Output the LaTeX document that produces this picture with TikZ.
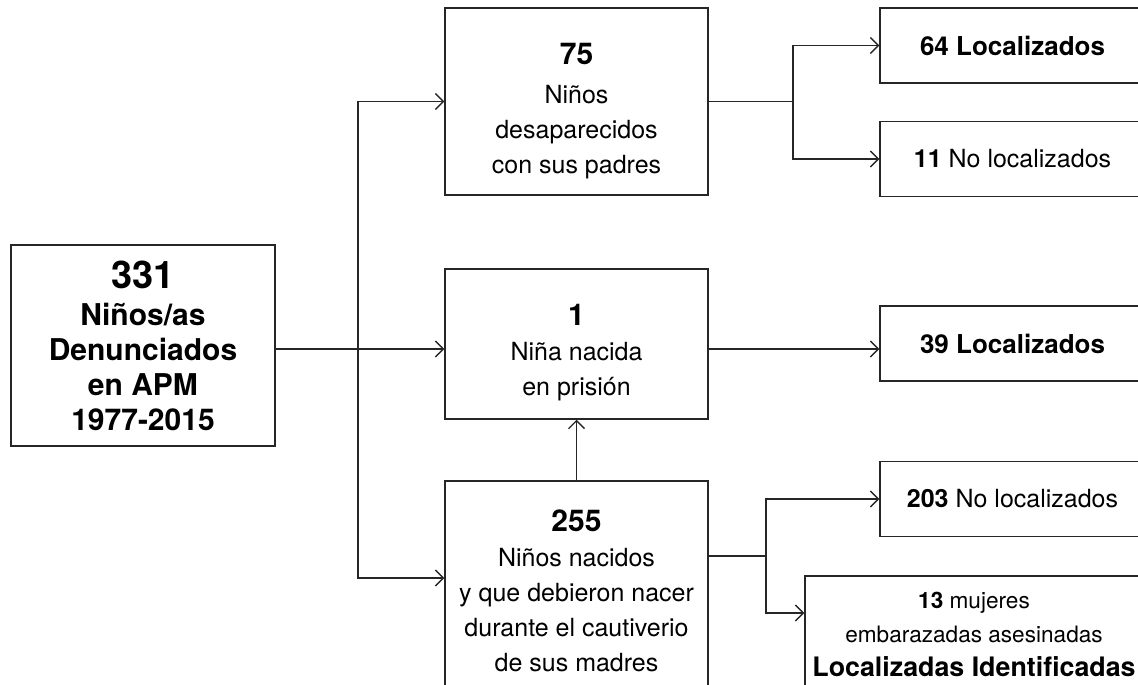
\documentclass[tikz,border=0pt]{standalone}
\usepackage{fontspec}
\setmainfont{TeX Gyre Heros}
\usetikzlibrary{arrows.meta}

\newcommand\bignum[2][0pt]{\rule{0pt}{#1}{\fontsize{15}{18}\selectfont\bfseries #2}}

\begin{document}
\begin{tikzpicture}[
    x=0.5pt, y=-0.5pt,
    box/.style={draw=black!85, line width=0.75pt, align=center, inner sep=0pt, font=\fontsize{12.5}{17.5}\selectfont},
    mid/.style={box, minimum width=131.5pt},
    leaf/.style={box, minimum width=132.5pt, minimum height=37.5pt},
    link/.style={draw=black!85, line width=0.65pt},
    arrow/.style={link, -{Straight Barb[length=4pt, width=8pt]}}
]
\useasboundingbox (0,0) rectangle (1138,684);
\clip (0,0) rectangle (1138,684);

\node[box, minimum width=132pt, minimum height=100.5pt, font=\fontsize{15}{17.5}\selectfont\bfseries] (total) at (143,345.5) {{\fontsize{19}{22}\selectfont 331}\\[1pt]Niños/as\\Denunciados\\en APM\\1977-2015};
\node[mid, minimum height=93.5pt] (parents) at (576.5,101.5) {\bignum[20pt]{75}\\[2pt]Niños\\desaparecidos\\con sus padres};
\node[mid, minimum height=75pt] (prison) at (576.5,344) {\bignum[19pt]{1}\\Niña nacida\\en prisión};
\node[mid, minimum height=110pt] (captivity) at (576.5,591) {\bignum{255}\\Niños nacidos\\y que debieron nacer\\durante el cautiverio\\de sus madres};
\node[leaf, font=\fontsize{13}{17.5}\selectfont\bfseries] (found64) at (1012.5,45.5) {64 Localizados};
\node[leaf] (lost11) at (1012.5,159) {\textbf{11} No localizados};
\node[leaf, font=\fontsize{13}{17.5}\selectfont\bfseries] (found39) at (1012.5,343.5) {39 Localizados};
\node[leaf] (lost203) at (1012.5,499) {\textbf{203} No localizados};
\node[box, minimum width=169pt, minimum height=58.5pt, font=\fontsize{11.3}{17}\selectfont] (women) at (974,634.5) {\textbf{13} mujeres\\embarazadas asesinadas\\{\fontsize{13.4}{17}\selectfont\bfseries Localizadas Identificadas}};

\coordinate (fork) at (358,349);
\coordinate (fork75) at (793,101.5);
\coordinate (fork255) at (766,556);

\draw[link] (total.east |- fork) -- (fork);
\draw[arrow] (fork) |- (parents.west);
\draw[arrow] (fork) -- (prison.west |- fork);
\draw[arrow] (fork) |- ([yshift=6.5pt]captivity.west);
\draw[arrow] (captivity.north) -- (prison.south);
\draw[link] (parents.east) -- (fork75);
\draw[arrow] (fork75) |- (found64.west);
\draw[arrow] (fork75) |- (lost11.west);
\draw[arrow] (prison.east |- fork) -- (found39.west |- fork);
\draw[link] (captivity.east |- fork255) -- (fork255);
\draw[arrow] (fork255) |- (lost203.west);
\draw[arrow] (fork255) |- ([yshift=10.75pt]women.west);
\end{tikzpicture}
\end{document}
